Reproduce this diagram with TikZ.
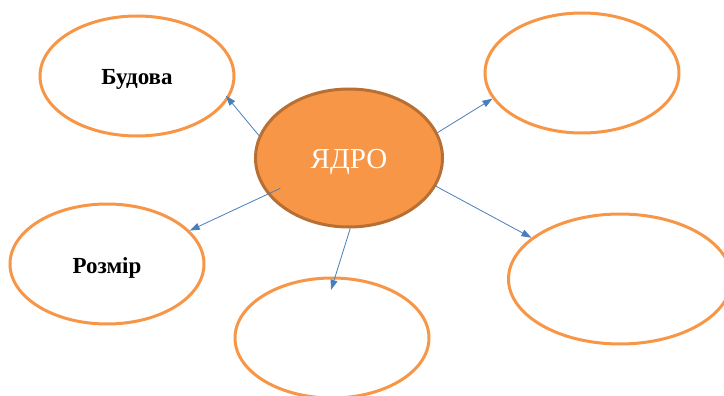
\documentclass[tikz,border=0pt]{standalone}
\usepackage{fontspec}
\setmainfont{Liberation Serif}
\usetikzlibrary{arrows.meta,shapes.geometric,positioning}
\definecolor{orng}{RGB}{247,150,70}
\definecolor{orngdark}{RGB}{183,111,52}
\definecolor{arrblue}{RGB}{74,126,187}
\newcommand{\lowtext}[2]{\smash{\raisebox{-#1}{#2}}}

\begin{document}
\begin{tikzpicture}[x=1pt, y=-1pt, >={Triangle[length=10pt,width=7pt]},
      bubble/.style={ellipse,draw=orng,line width=3pt,inner sep=0pt,
        minimum width=194pt,minimum height=120pt,text=black,
        font=\fontsize{23}{27}\selectfont\bfseries},
      core/.style={ellipse,draw=orngdark,fill=orng,line width=3pt,inner sep=0pt,
        minimum width=187pt,minimum height=138pt,text=white,
        font=\fontsize{29}{34}\selectfont},
      link/.style={draw=arrblue,line width=0.8pt,->}]
      \useasboundingbox (0,0) rectangle (724,396);
      \node[bubble]  at (137,76)    (budova) {\lowtext{9pt}{Будова}};
      \node[bubble]  at (582,73)    (nE) {};
      \node[bubble]  at (107,264)   (rozmir) {\lowtext{9pt}{Розмір}};
      \node[bubble]  at (332,338)   (nS) {};
      \node[bubble,minimum width=223pt,minimum height=130pt]
                     at (620,279)   (nSE) {};
      \node[core]    at (349,158)   (yadro) {\lowtext{10pt}{ЯДРО}};
      \draw[link,shorten >=-4pt] (yadro.166) to (budova.-14);
      \draw[link] (yadro.16) to (nE.196);
      \draw[link,shorten <=-14pt] (yadro.204) to (rozmir.22);
      \draw[link,shorten >=-14pt] (yadro.-89) to (nS.87);
      \draw[link] (yadro.-18) to (nSE.155);
    \end{tikzpicture}
\end{document}
